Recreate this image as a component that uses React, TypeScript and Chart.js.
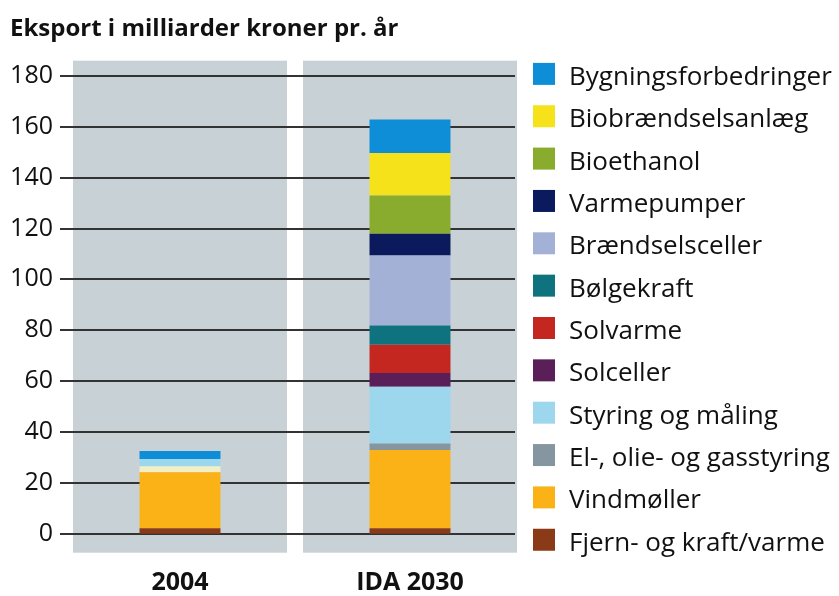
import React, { useEffect, useRef } from "react";
import { Chart, registerables } from "chart.js";

Chart.register(...registerables);

const title = "Eksport i milliarder kroner pr. år";
const categories = ["2004", "IDA 2030"];
const yTicks = [0, 20, 40, 60, 80, 100, 120, 140, 160, 180];

// series values, bottom of stack to top
const fjernKraftVarme = [2.1, 2.1];
const vindmoeller = [22.0, 30.8];
const elOlieGas = [2.4, 2.5];
const styringMaaling = [2.9, 22.4];
const solceller = [0, 5.4];
const solvarme = [0, 11.1];
const boelgekraft = [0, 7.6];
const braendselsceller = [0, 27.5];
const varmepumper = [0, 8.5];
const bioethanol = [0, 15.1];
const biobraendselsanlaeg = [0, 16.7];
const bygningsforbedringer = [3.1, 13.2];

const seriesLabels = [
  "Fjern- og kraft/varme",
  "Vindmøller",
  "El-, olie- og gasstyring",
  "Styring og måling",
  "Solceller",
  "Solvarme",
  "Bølgekraft",
  "Brændselsceller",
  "Varmepumper",
  "Bioethanol",
  "Biobrændselsanlæg",
  "Bygningsforbedringer",
];
const seriesValues = [
  fjernKraftVarme,
  vindmoeller,
  elOlieGas,
  styringMaaling,
  solceller,
  solvarme,
  boelgekraft,
  braendselsceller,
  varmepumper,
  bioethanol,
  biobraendselsanlaeg,
  bygningsforbedringer,
];
const seriesColors = [
  "#8a3a16",
  "#fbb217",
  "#8696a0",
  "#9dd7ee",
  "#5a1e58",
  "#c3271f",
  "#0e737e",
  "#a3b1d6",
  "#0b1a5c",
  "#89ab2e",
  "#f6e21a",
  "#0e8ed6",
];
// 2004 bar shows the El-/olie-/gas segment in a pale tone
const elOlieBarColors = ["#f2eec6", "#8696a0"];

const PANEL = "#c8d1d6";
const TEXT = "#111111";
const FONT = "'Open Sans', 'Noto Sans', sans-serif";

const panelPlugin = {
  id: "panels",
  beforeDatasetsDraw(chart: any) {
    const { ctx, chartArea, scales } = chart;
    const xs = scales.x;
    const ys = scales.y;
    const catW = (chartArea.right - chartArea.left) / categories.length;
    ctx.save();
    ctx.fillStyle = PANEL;
    categories.forEach((_, i) => {
      const cx = xs.getPixelForValue(i);
      ctx.fillRect(cx - catW / 2 + 8, chartArea.top, catW - 16, chartArea.bottom - chartArea.top);
    });
    ctx.strokeStyle = "#333333";
    ctx.lineWidth = 2;
    yTicks.forEach((v) => {
      const py = Math.round(ys.getPixelForValue(v));
      ctx.beginPath();
      ctx.moveTo(chartArea.left - 5, py);
      ctx.lineTo(chartArea.right - 10, py);
      ctx.stroke();
    });
    ctx.restore();
  },
};

const legendPlugin = {
  id: "sideLegend",
  afterDraw(chart: any) {
    const { ctx, chartArea } = chart;
    const n = seriesLabels.length;
    ctx.save();
    ctx.font = `26px ${FONT}`;
    ctx.textBaseline = "alphabetic";
    ctx.textAlign = "left";
    for (let k = 0; k < n; k++) {
      const idx = n - 1 - k;
      const cy = chartArea.top + 13.2 + k * 42.35;
      ctx.fillStyle = seriesColors[idx];
      ctx.fillRect(chartArea.right + 8, cy - 11, 22, 22);
      ctx.fillStyle = TEXT;
      ctx.fillText(seriesLabels[idx], chartArea.right + 44, cy + 11);
    }
    ctx.restore();
  },
};

export default function App() {
  const ref = useRef<HTMLCanvasElement>(null);

  useEffect(() => {
    if (!ref.current) return;
    const datasets = seriesLabels.map((label, i) => ({
      label,
      data: seriesValues[i],
      backgroundColor: i === 2 ? elOlieBarColors : seriesColors[i],
      borderWidth: 0,
      categoryPercentage: 1,
      barPercentage: 0.352,
    }));
    const chart = new Chart(ref.current, {
      type: "bar",
      data: { labels: categories, datasets },
      plugins: [panelPlugin, legendPlugin],
      options: {
        animation: false,
        responsive: false,
        layout: { padding: { left: 10, right: 314, top: 0, bottom: 0 } },
        plugins: {
          legend: { display: false },
          tooltip: { enabled: false },
          title: {
            display: true,
            text: title,
            align: "start",
            color: TEXT,
            font: { family: FONT, size: 24, weight: "bold" },
            padding: { top: 14.6, bottom: 17.3 },
          },
        },
        scales: {
          x: {
            stacked: true,
            grid: { display: false, drawTicks: false },
            border: { display: false },
            ticks: {
              color: TEXT,
              padding: 15.5,
              font: { family: FONT, size: 25, weight: "bold" },
            },
            afterFit(scale: any) {
              scale.height = 43.3;
            },
          },
          y: {
            stacked: true,
            min: -7.5,
            max: 186,
            grid: { display: false, drawTicks: false },
            border: { display: false },
            ticks: {
              color: TEXT,
              padding: 12,
              font: { family: FONT, size: 25 },
            },
            afterBuildTicks(scale: any) {
              scale.ticks = yTicks.map((v) => ({ value: v }));
            },
            afterFit(scale: any) {
              scale.width = 55;
            },
          },
        },
      },
    });
    return () => chart.destroy();
  }, []);

  return (
    <div style={{ position: "fixed", left: 0, top: 0, width: 839, height: 596, background: "#fff" }}>
      <canvas ref={ref} width={839} height={596} style={{ display: "block" }} />
    </div>
  );
}
